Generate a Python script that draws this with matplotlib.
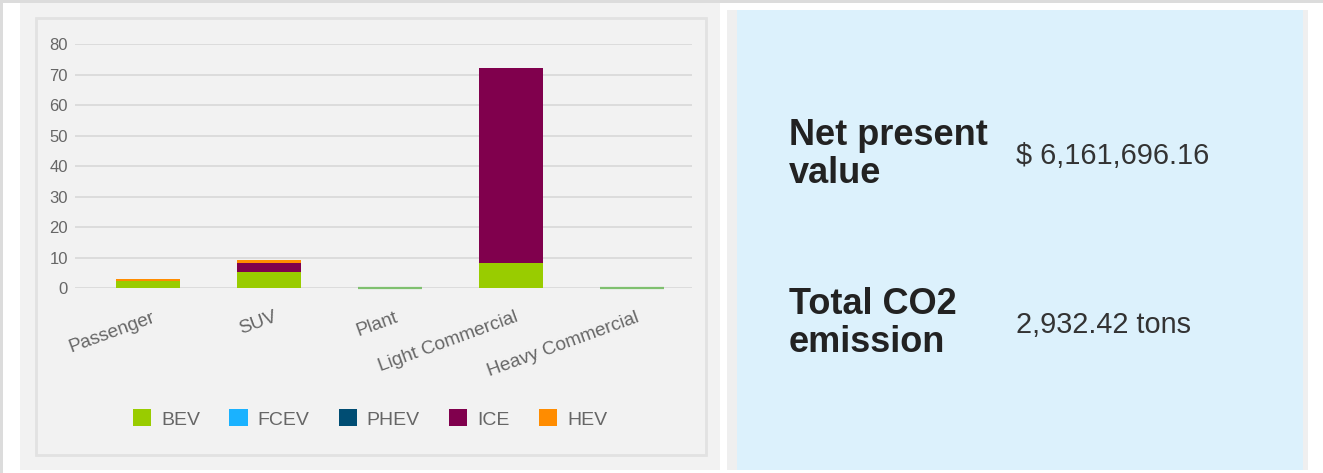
import matplotlib.pyplot as plt
import matplotlib.transforms as mtransforms
from matplotlib.patches import Rectangle, Patch

# vehicle categories and stacked fleet counts per powertrain
categories = ["Passenger", "SUV", "Plant", "Light Commercial", "Heavy Commercial"]
bev = [2.2, 5.2, 0, 8.1, 0]
fcev = [0, 0, 0, 0, 0]
phev = [0, 0, 0, 0, 0]
ice = [0.2, 2.9, 0, 63.9, 0]
hev = [0.7, 1.0, 0, 0, 0]

series_names = ["BEV", "FCEV", "PHEV", "ICE", "HEV"]
series_colors = ["#99cc00", "#1ab2ff", "#004d73", "#80004d", "#ff8c00"]
y_ticks = [0, 10, 20, 30, 40, 50, 60, 70, 80]

npv_label = "Net present\nvalue"
npv_value = "$ 6,161,696.16"
co2_label = "Total CO2\nemission"
co2_value = "2,932.42 tons"

W, H = 1323, 473
plt.rcParams['font.family'] = ['Liberation Sans', 'DejaVu Sans']
fig = plt.figure(figsize=(W / 100, H / 100), dpi=100)


def box(x0, y0, x1, y1):
    # pixel box (top-left origin) -> figure fractions
    return [x0 / W, 1 - y1 / H, (x1 - x0) / W, (y1 - y0) / H]


def rect(x0, y0, x1, y1, **kw):
    l, b, w, h = box(x0, y0, x1, y1)
    fig.add_artist(Rectangle((l, b), w, h, transform=fig.transFigure,
                             zorder=-5, **kw))


# page frame and panels
rect(0, 0, W, 3, facecolor="#dcdcdc", edgecolor="none")
rect(0, 0, 3, H, facecolor="#dcdcdc", edgecolor="none")
rect(20, 3, 720, 470, facecolor="#f2f2f2", edgecolor="none")
rect(36, 18, 706, 455, facecolor="#f2f2f2", edgecolor="#e2e2e2", linewidth=2)
rect(727, 10, 1308, 470, facecolor="#efefef", edgecolor="none")
rect(737, 10, 1303, 470, facecolor="#dcf1fc", edgecolor="none")

# stacked bar chart; empty segments get no fill, an empty BEV stack keeps a thin outline
ax = fig.add_axes(box(75, 44, 692, 288))
ax.set_facecolor("none")
x = list(range(len(categories)))
bottom = [0.0] * len(categories)
for name, vals, color in zip(series_names, [bev, fcev, phev, ice, hev], series_colors):
    fills = [color if v > 0 else "none" for v in vals]
    edges = ["#7fc06f" if (name == "BEV" and v == 0) else "none" for v in vals]
    ax.bar(x, vals, width=0.53, bottom=bottom, color=fills, edgecolor=edges,
           linewidth=1.6, zorder=3, clip_on=False)
    bottom = [b + v for b, v in zip(bottom, vals)]

ax.set_xlim(-0.603, 4.496)
ax.set_ylim(0, 80)
ax.set_yticks(y_ticks)
ax.yaxis.grid(True, color="#dadada", linewidth=1.3, zorder=0)
ax.set_axisbelow(True)
for s in ax.spines.values():
    s.set_visible(False)
ax.tick_params(axis="y", length=0, pad=5, labelsize=12, labelcolor="#666666")
ax.tick_params(axis="x", length=0, pad=15, labelsize=13.7, labelcolor="#666666")
ax.set_xticks(x)
ax.set_xticklabels(categories, rotation=20, ha="right", va="top",
                   rotation_mode="anchor")
shift = mtransforms.ScaledTranslation(4 / 100, 0, fig.dpi_scale_trans)
for lbl in ax.get_xticklabels():
    lbl.set_transform(lbl.get_transform() + shift)

handles = [Patch(facecolor=c, edgecolor="none") for c in series_colors]
fig.legend(handles, series_names, loc="center", bbox_to_anchor=(370 / W, 1 - 419 / H),
           ncol=5, frameon=False, fontsize=14, labelcolor="#666666",
           handlelength=0.95, handleheight=0.95, handletextpad=0.5,
           columnspacing=1.5)

# summary figures
fig.text(789 / W, 1 - 118 / H, npv_label, fontsize=26, fontweight="bold",
         color="#222222", va="top", ha="left", linespacing=1.12)
fig.text(1016 / W, 1 - 156 / H, npv_value, fontsize=20.8, color="#333333",
         va="center", ha="left")
fig.text(789 / W, 1 - 287 / H, co2_label, fontsize=26, fontweight="bold",
         color="#222222", va="top", ha="left", linespacing=1.12)
fig.text(1016 / W, 1 - 325 / H, co2_value, fontsize=20.8, color="#333333",
         va="center", ha="left")

fig.savefig("out.png", dpi=100, facecolor="white")
